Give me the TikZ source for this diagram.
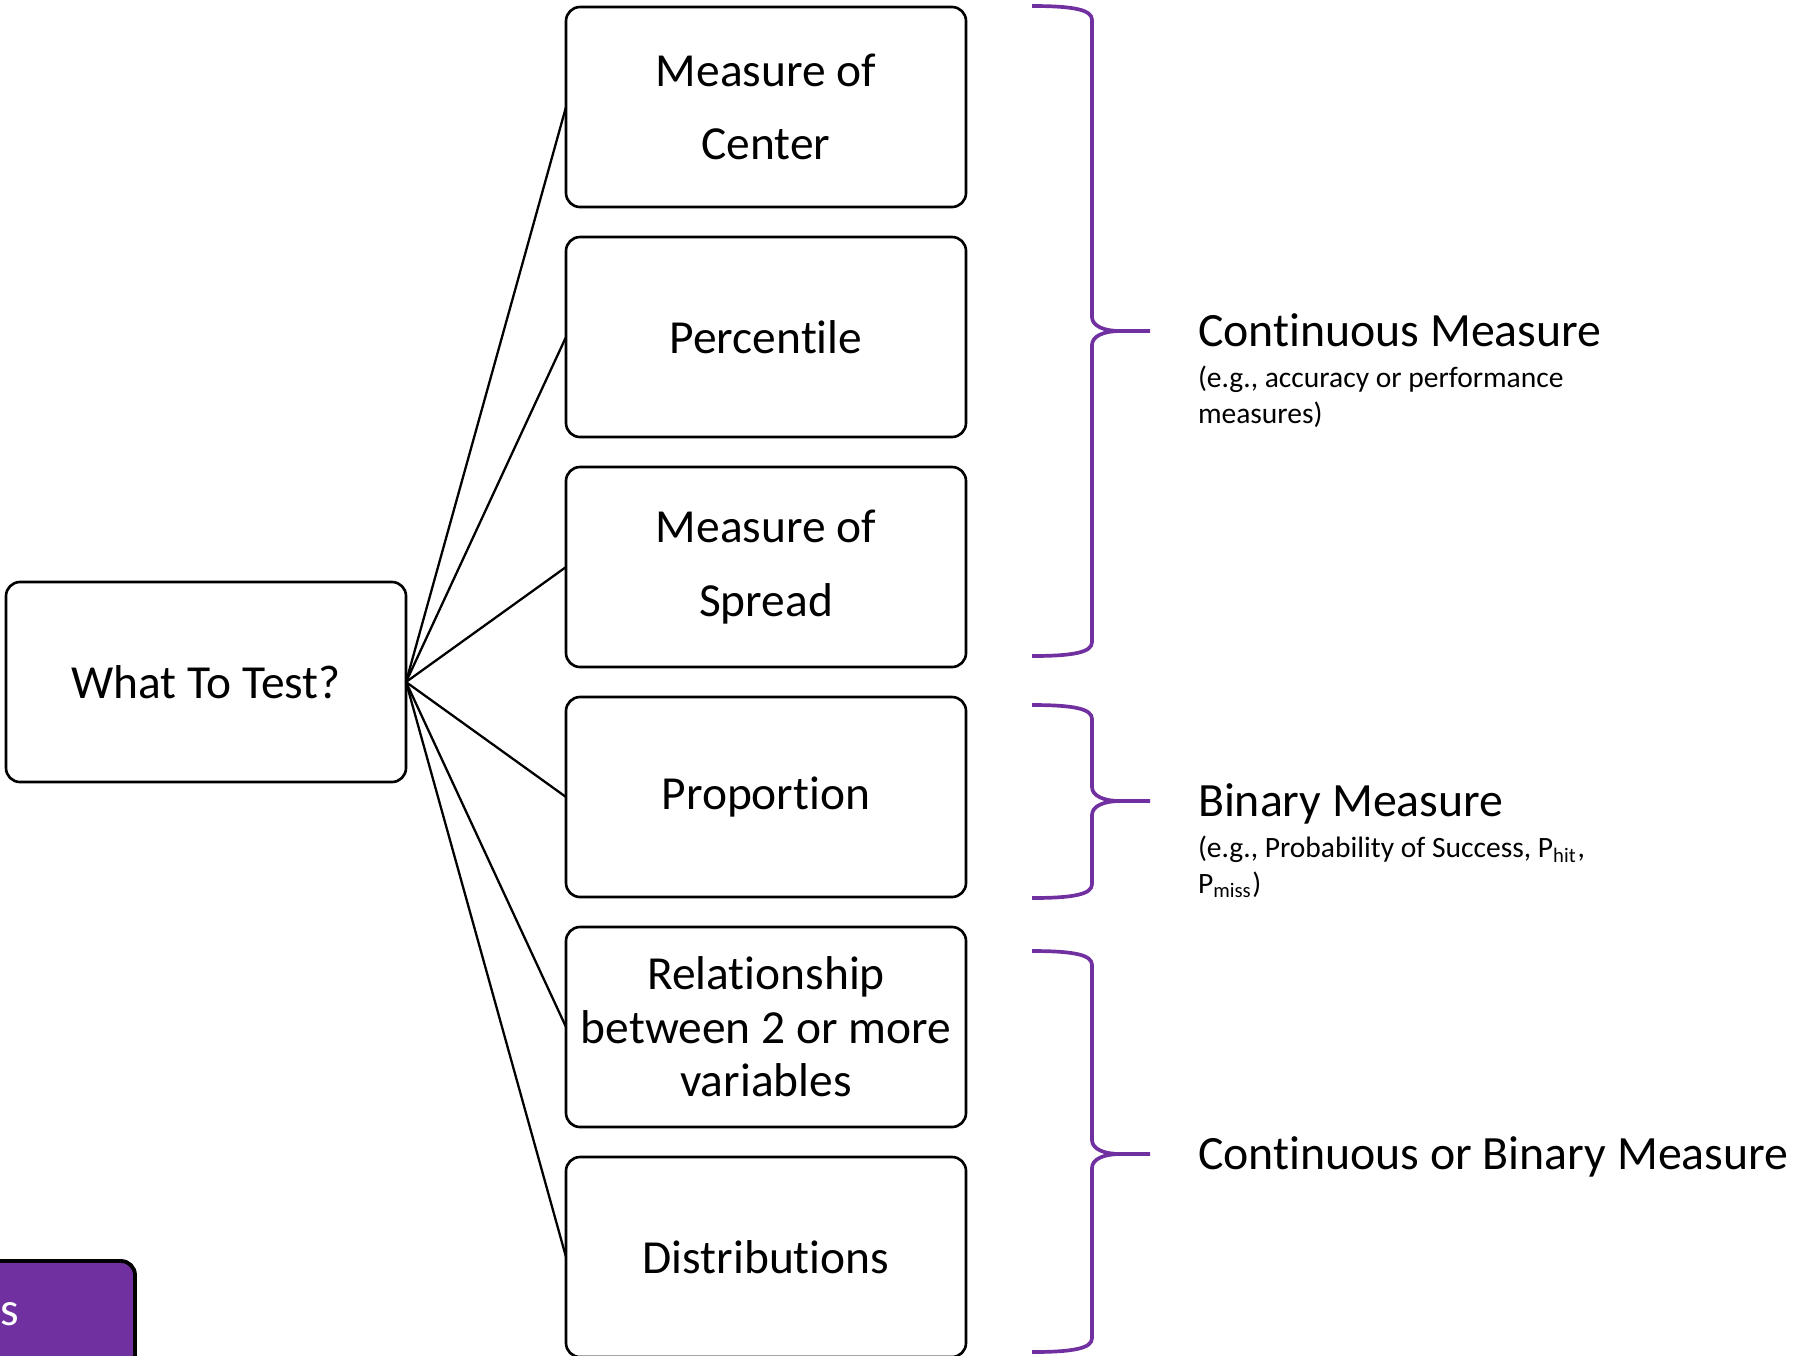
\documentclass[tikz,border=0pt]{standalone}
\usepackage{fontspec}
\setmainfont{Carlito}[Ligatures=NoCommon]
\usepackage{tikz}
\usetikzlibrary{positioning}
\definecolor{tabviolet}{HTML}{7030A0}
\definecolor{braceviolet}{HTML}{7030A0}

\begin{document}
\begin{tikzpicture}[x=0.1mm, y=-0.1mm, line width=0.65pt,
    every node/.append style={outer sep=0pt},
    box/.style={draw, line width=0.75pt, rounded corners=1.4mm, minimum width=40mm,
      minimum height=20mm, align=center, inner sep=0pt, font=\fontsize{13.5}{16}\selectfont}]
  \tikzstyle{measurebrace} = [draw=braceviolet, line width=1.05pt]
  \tikzstyle{measure} = [font=\fontsize{13.6}{16}\selectfont, inner sep=0pt, text height=8.7pt, text depth=0pt, anchor=west]
  \tikzstyle{note} = [font=\fontsize{8.4}{10}\selectfont, inner sep=0pt, align=left]
  \useasboundingbox (0,0) rectangle (1818,1355);
  \clip (0,0) rectangle (1818,1355);

  \node (what) [box] at (206,682) {What To Test?};
  \node (mcenter) [box, font=\fontsize{13.5}{21}\selectfont] at (766,107) {Measure of\\Center};
  \node (pct) [box, below=3mm of mcenter] {Percentile};
  \node (spread) [box, below=3mm of pct, font=\fontsize{13.5}{21}\selectfont] {Measure of\\Spread};
  \node (prop) [box, below=3mm of spread] {Proportion};
  \node (rel) [box, below=3mm of prop, font=\fontsize{13.5}{15.2}\selectfont] {Relationship\\between 2 or more\\variables};
  \node (dist) [box, below=3mm of rel] {Distributions};

  \foreach \n in {mcenter,pct,spread,prop,rel,dist}
    \draw (what.east) -- (\n.west);

  % braces: top / tip / bottom
  \foreach \t/\m/\b/\n in {6/331/656/cont, 705/801/898/bin, 951/1154/1352/both}
    \draw[measurebrace] (1032,\t) .. controls (1075,\t) and (1092,\t+4) .. (1092,\t+14)
      -- (1092,\m-14) .. controls (1092,\m-5) and (1104,\m) .. (1120,\m) -- (1150,\m) coordinate (tip\n)
      (1120,\m) .. controls (1104,\m) and (1092,\m+5) .. (1092,\m+14)
      -- (1092,\b-14) .. controls (1092,\b-4) and (1075,\b) .. (1032,\b);

  \node (cont) [measure, right=4.8mm of tipcont] {Continuous Measure};
  \node (contnote) [note, below=2mm of cont.south west, anchor=north west] {(e.g., accuracy or performance\\measures)};
  \node (bin) [measure, right=4.8mm of tipbin] {Binary Measure};
  \node (binnote) [note, below=2mm of bin.south west, anchor=north west] {(e.g., Probability of Success, P\textsubscript{hit},\\P\textsubscript{miss})};
  \node (both) [measure, right=4.8mm of tipboth] {Continuous or Binary Measure};

  % cut-off tab, bottom left
  \node (tab) [draw=black, line width=1.1pt, fill=tabviolet, rounded corners=1.4mm,
    minimum width=30mm, minimum height=15mm, anchor=north east] at (135,1261) {};
  \node (tabtext) [text=white, anchor=base east, inner sep=0pt, font=\fontsize{13.5}{16}\selectfont] at (19,1325) {s};
\end{tikzpicture}
\end{document}
